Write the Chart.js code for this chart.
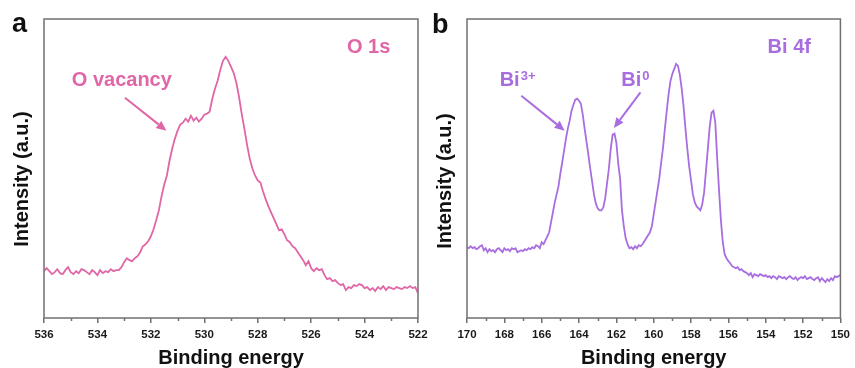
<!DOCTYPE html>
<html>
<head>
<meta charset="utf-8">
<title>XPS O 1s / Bi 4f</title>
<script src="https://cdn.jsdelivr.net/npm/chart.js@4.4.0/dist/chart.umd.min.js"></script>
<style>
  html, body { margin: 0; padding: 0; background: #fff; }
  #wrap { position: relative; width: 855px; height: 368px; overflow: hidden; }
  canvas { position: absolute; top: 0; }
  #chartA { left: 0; }
  #chartB { left: 427px; }
</style>
</head>
<body>
<div id="wrap">
  <canvas id="chartA" width="440" height="368"></canvas>
  <canvas id="chartB" width="428" height="368"></canvas>
</div>
<script>
// panel a : O 1s
const energyA = [
  536.0,535.9,535.8,535.7,535.6,535.5,535.4,535.3,535.2,535.1,
  535.0,534.9,534.8,534.7,534.6,534.5,534.4,534.3,534.2,534.1,
  534.0,533.9,533.8,533.7,533.6,533.5,533.4,533.3,533.2,533.1,
  533.0,532.9,532.8,532.7,532.6,532.5,532.4,532.3,532.2,532.1,
  532.0,531.9,531.8,531.7,531.6,531.5,531.4,531.3,531.2,531.1,
  531.0,530.9,530.8,530.7,530.6,530.5,530.4,530.3,530.2,530.1,
  530.0,529.9,529.8,529.7,529.6,529.5,529.4,529.3,529.2,529.1,
  529.0,528.9,528.8,528.7,528.6,528.5,528.4,528.3,528.2,528.1,
  528.0,527.9,527.8,527.7,527.6,527.5,527.4,527.3,527.2,527.1,
  527.0,526.9,526.8,526.7,526.6,526.5,526.4,526.3,526.2,526.1,
  526.0,525.9,525.8,525.7,525.6,525.5,525.4,525.3,525.2,525.1,
  525.0,524.9,524.8,524.7,524.6,524.5,524.4,524.3,524.2,524.1,
  524.0,523.9,523.8,523.7,523.6,523.5,523.4,523.3,523.2,523.1,
  523.0,522.9,522.8,522.7,522.6,522.5,522.4,522.3,522.2,522.1,
  522.0
];
const intensityA = [
  47,50,47,44,46,49,45,44,48,51,
  46,44,47,45,49,48,46,44,48,46,
  43,48,45,47,46,49,47,48,48,51,
  56,60,58,57,60,62,66,72,74,77,
  82,89,98,108,122,134,143,158,170,180,
  188,194,196,200,197,203,198,201,197,200,
  204,205,207,220,230,238,249,258,262,258,
  252,246,236,222,205,190,174,160,150,143,
  138,136,127,119,112,106,100,94,88,89,
  84,78,76,72,70,66,62,58,53,57,
  50,47,50,48,49,43,39,40,37,38,
  35,33,34,28,31,30,33,32,34,33,
  30,31,28,30,27,31,29,32,28,31,
  30,29,31,30,29,31,30,32,30,31,
  25
];

// panel b : Bi 4f
const energyB = [
  170.0,169.9,169.8,169.7,169.6,169.5,169.4,169.3,169.2,169.1,
  169.0,168.9,168.8,168.7,168.6,168.5,168.4,168.3,168.2,168.1,
  168.0,167.9,167.8,167.7,167.6,167.5,167.4,167.3,167.2,167.1,
  167.0,166.9,166.8,166.7,166.6,166.5,166.4,166.3,166.2,166.1,
  166.0,165.9,165.8,165.7,165.6,165.5,165.4,165.3,165.2,165.1,
  165.0,164.9,164.8,164.7,164.6,164.5,164.4,164.3,164.2,164.1,
  164.0,163.9,163.8,163.7,163.6,163.5,163.4,163.3,163.2,163.1,
  163.0,162.9,162.8,162.7,162.6,162.5,162.4,162.3,162.2,162.1,
  162.0,161.9,161.8,161.7,161.6,161.5,161.4,161.3,161.2,161.1,
  161.0,160.9,160.8,160.7,160.6,160.5,160.4,160.3,160.2,160.1,
  160.0,159.9,159.8,159.7,159.6,159.5,159.4,159.3,159.2,159.1,
  159.0,158.9,158.8,158.7,158.6,158.5,158.4,158.3,158.2,158.1,
  158.0,157.9,157.8,157.7,157.6,157.5,157.4,157.3,157.2,157.1,
  157.0,156.9,156.8,156.7,156.6,156.5,156.4,156.3,156.2,156.1,
  156.0,155.9,155.8,155.7,155.6,155.5,155.4,155.3,155.2,155.1,
  155.0,154.9,154.8,154.7,154.6,154.5,154.4,154.3,154.2,154.1,
  154.0,153.9,153.8,153.7,153.6,153.5,153.4,153.3,153.2,153.1,
  153.0,152.9,152.8,152.7,152.6,152.5,152.4,152.3,152.2,152.1,
  152.0,151.9,151.8,151.7,151.6,151.5,151.4,151.3,151.2,151.1,
  151.0,150.9,150.8,150.7,150.6,150.5,150.4,150.3,150.2,150.1,
  150.0
];
const intensityB = [
  71,70,72,70,71,69,70,72,73,68,
  70,66,69,67,68,66,69,70,68,66,
  70,68,69,67,70,69,70,66,67,68,
  67,69,68,70,69,71,70,73,72,70,
  76,74,78,82,86,96,106,116,124,132,
  145,156,168,180,190,198,208,214,219,220,
  218,215,204,190,177,164,150,137,124,115,
  110,108,108,111,120,135,150,170,184,185,
  176,155,140,108,92,80,74,70,71,69,
  72,70,73,72,74,77,80,83,86,92,
  104,116,128,140,156,171,190,208,225,238,
  245,250,255,253,244,230,212,190,170,152,
  138,124,116,112,110,108,114,126,148,170,
  192,206,208,196,160,128,98,76,64,60,
  57,55,52,51,50,51,48,49,47,46,
  45,43,45,41,44,43,42,44,43,42,
  43,41,42,40,42,41,39,42,41,40,
  41,39,41,42,40,39,41,38,40,41,
  40,42,39,40,41,39,38,40,41,37,
  40,38,36,39,37,40,38,42,41,42,
  43
];

const FONT = '"Liberation Sans", Arial, Helvetica, sans-serif';
const FRAME = '#707070';

// draws the frame, minor ticks, y title, panel letter and the labels/arrows
const annotate = {
  id: 'annotate',
  afterDraw(chart, args, p) {
    const { ctx, chartArea: a, scales: { x, y } } = chart;
    ctx.save();

    ctx.strokeStyle = FRAME;
    ctx.lineWidth = 1.5;
    ctx.strokeRect(a.left, a.top, a.right - a.left, a.bottom - a.top);

    ctx.beginPath();
    for (let v = Math.ceil(x.min); v <= x.max; v++) {
      if (v % 2 === 0) continue;
      const px = Math.round(x.getPixelForValue(v)) + 0.5;
      ctx.moveTo(px, a.bottom);
      ctx.lineTo(px, a.bottom + 3);
    }
    ctx.stroke();

    ctx.fillStyle = '#111';
    ctx.font = 'bold 20px ' + FONT;
    ctx.save();
    ctx.translate(p.yTitleX, p.yTitleY);
    ctx.rotate(-Math.PI / 2);
    ctx.textAlign = 'center';
    ctx.textBaseline = 'middle';
    ctx.fillText('Intensity (a.u.)', 0, 0);
    ctx.restore();

    ctx.font = 'bold 27px ' + FONT;
    ctx.textAlign = 'left';
    ctx.textBaseline = 'alphabetic';
    ctx.fillText(p.letter, p.letterX, p.letterY);

    ctx.fillStyle = p.color;
    ctx.strokeStyle = p.color;
    p.labels.forEach(l => {
      const px = x.getPixelForValue(l.x);
      const py = y.getPixelForValue(l.y);
      ctx.font = 'bold 20px ' + FONT;
      ctx.fillText(l.text, px, py);
      if (l.sup) {
        const w = ctx.measureText(l.text).width;
        ctx.font = 'bold 13px ' + FONT;
        ctx.fillText(l.sup, px + w + 1, py - 6);
      }
    });

    ctx.lineWidth = 2;
    p.arrows.forEach(ar => {
      const x1 = x.getPixelForValue(ar.from[0]), y1 = y.getPixelForValue(ar.from[1]);
      const x2 = x.getPixelForValue(ar.to[0]), y2 = y.getPixelForValue(ar.to[1]);
      const ang = Math.atan2(y2 - y1, x2 - x1);
      const hl = 10, hw = 4.5;
      ctx.beginPath();
      ctx.moveTo(x1, y1);
      ctx.lineTo(x2 - hl * Math.cos(ang), y2 - hl * Math.sin(ang));
      ctx.stroke();
      ctx.beginPath();
      ctx.moveTo(x2, y2);
      ctx.lineTo(x2 - hl * Math.cos(ang) + hw * Math.sin(ang), y2 - hl * Math.sin(ang) - hw * Math.cos(ang));
      ctx.lineTo(x2 - hl * Math.cos(ang) - hw * Math.sin(ang), y2 - hl * Math.sin(ang) + hw * Math.cos(ang));
      ctx.closePath();
      ctx.fill();
    });

    ctx.restore();
  }
};

function makePanel(id, energy, intensity, p) {
  return new Chart(document.getElementById(id), {
    type: 'line',
    data: {
      datasets: [{
        data: energy.map((e, i) => ({ x: e, y: intensity[i] })),
        borderColor: p.color,
        borderWidth: 1.8,
        pointRadius: 0,
        tension: 0,
        fill: false
      }]
    },
    options: {
      responsive: false,
      animation: false,
      devicePixelRatio: 1,
      layout: { padding: { left: 0, right: p.padRight, top: 19, bottom: 0 } },
      plugins: { legend: { display: false }, tooltip: { enabled: false }, annotate: p },
      scales: {
        x: {
          type: 'linear', reverse: true, min: p.xMin, max: p.xMax,
          ticks: {
            stepSize: 2, autoSkip: false, maxRotation: 0, padding: 5,
            color: '#1a1a1a', font: { family: FONT, size: 11.5, weight: 'bold' }
          },
          grid: { drawOnChartArea: false, tickLength: 5, color: FRAME, lineWidth: 1.5 },
          border: { display: false },
          title: {
            display: true, text: 'Binding energy', color: '#111', padding: 0,
            font: { family: FONT, size: 20, weight: 'bold', lineHeight: 1 }
          },
          afterFit: s => { s.height = 50; }
        },
        y: {
          min: 0, max: 300,
          ticks: { display: false },
          grid: { display: false },
          border: { display: false },
          afterFit: s => { s.width = p.yAxisWidth; }
        }
      }
    },
    plugins: [annotate]
  });
}

makePanel('chartA', energyA, intensityA, {
  color: '#e066a6', xMin: 522, xMax: 536, padRight: 22, yAxisWidth: 44,
  letter: 'a', letterX: 12, letterY: 32, yTitleX: 22.5, yTitleY: 179,
  labels: [
    { text: 'O 1s', x: 524.66, y: 266 },
    { text: 'O vacancy', x: 534.96, y: 233 }
  ],
  arrows: [ { from: [532.97, 221], to: [531.42, 188] } ]
});

makePanel('chartB', energyB, intensityB, {
  color: '#a86ee0', xMin: 150, xMax: 170, padRight: 14, yAxisWidth: 40,
  letter: 'b', letterX: 5, letterY: 33, yTitleX: 18, yTitleY: 181,
  labels: [
    { text: 'Bi 4f', x: 153.9, y: 266 },
    { text: 'Bi', sup: '3+', x: 168.25, y: 233 },
    { text: 'Bi', sup: '0', x: 161.74, y: 233 }
  ],
  arrows: [
    { from: [167.09, 223], to: [164.77, 188] },
    { from: [160.71, 226.3], to: [162.13, 190.7] }
  ]
});
</script>
</body>
</html>
